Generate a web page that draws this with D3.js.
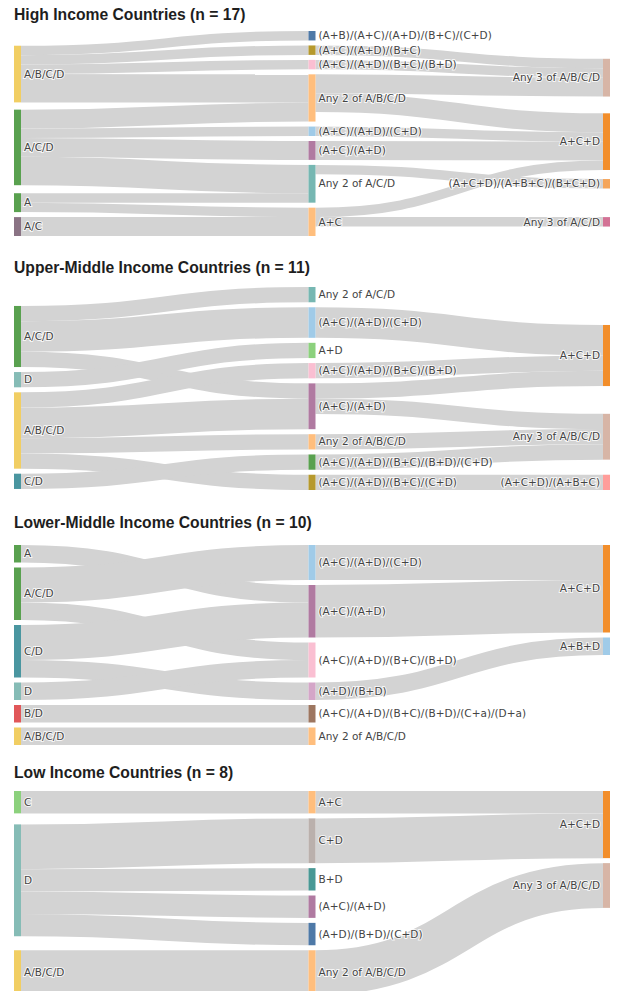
<!DOCTYPE html>
<html>
<head>
<meta charset="utf-8">
<script src="https://cdn.jsdelivr.net/npm/d3@7"></script>
<style>
  body { margin: 0; background: #fff; }
  .title { font-family: "Liberation Sans", Arial, sans-serif; font-weight: bold; font-size: 15.7px; fill: #1e1e1e; }
  .label { font-family: "DejaVu Sans", sans-serif; font-size: 10.5px; fill: #444; stroke: #fff; stroke-width: 2px; stroke-opacity: .8; paint-order: stroke; }
</style>
</head>
<body>
<svg id="chart"></svg>
<script>

// ---- data ----

const highTitle = 'High Income Countries (n = 17)'
const highLeft = ['A/B/C/D', 'A/C/D', 'A', 'A/C']
const highMid = ['(A+B)/(A+C)/(A+D)/(B+C)/(C+D)', '(A+C)/(A+D)/(B+C)', '(A+C)/(A+D)/(B+C)/(B+D)', 'Any 2 of A/B/C/D',
  '(A+C)/(A+D)/(C+D)', '(A+C)/(A+D)', 'Any 2 of A/C/D', 'A+C']
const highRight = ['Any 3 of A/B/C/D', 'A+C+D', '(A+C+D)/(A+B+C)/(B+C+D)', 'Any 3 of A/C/D']
const highLinks = [
  ['A/B/C/D', '(A+B)/(A+C)/(A+D)/(B+C)/(C+D)', 1],
  ['A/B/C/D', '(A+C)/(A+D)/(B+C)', 1],
  ['A/B/C/D', '(A+C)/(A+D)/(B+C)/(B+D)', 1],
  ['A/B/C/D', 'Any 2 of A/B/C/D', 3],
  ['A/C/D', 'Any 2 of A/B/C/D', 2],
  ['A/C/D', '(A+C)/(A+D)/(C+D)', 1],
  ['A/C/D', '(A+C)/(A+D)', 2],
  ['A/C/D', 'Any 2 of A/C/D', 3],
  ['A', 'Any 2 of A/C/D', 1],
  ['A', 'A+C', 1],
  ['A/C', 'A+C', 2],
  ['(A+C)/(A+D)/(B+C)', 'Any 3 of A/B/C/D', 1],
  ['(A+C)/(A+D)/(B+C)/(B+D)', 'Any 3 of A/B/C/D', 1],
  ['Any 2 of A/B/C/D', 'Any 3 of A/B/C/D', 2],
  ['Any 2 of A/B/C/D', 'A+C+D', 2],
  ['(A+C)/(A+D)/(C+D)', 'A+C+D', 1],
  ['(A+C)/(A+D)', 'A+C+D', 2],
  ['A+C', 'A+C+D', 1],
  ['Any 2 of A/C/D', '(A+C+D)/(A+B+C)/(B+C+D)', 1],
  ['A+C', 'Any 3 of A/C/D', 1]
]

const upperTitle = 'Upper-Middle Income Countries (n = 11)'
const upperLeft = ['A/C/D', 'D', 'A/B/C/D', 'C/D']
const upperMid = ['Any 2 of A/C/D', '(A+C)/(A+D)/(C+D)', 'A+D', '(A+C)/(A+D)/(B+C)/(B+D)', '(A+C)/(A+D)',
  'Any 2 of A/B/C/D', '(A+C)/(A+D)/(B+C)/(B+D)/(C+D)', '(A+C)/(A+D)/(B+C)/(C+D)']
const upperRight = ['A+C+D', 'Any 3 of A/B/C/D', '(A+C+D)/(A+B+C)']
const upperLinks = [
  ['A/C/D', 'Any 2 of A/C/D', 1],
  ['A/C/D', '(A+C)/(A+D)/(C+D)', 2],
  ['A/C/D', '(A+C)/(A+D)', 1],
  ['D', 'A+D', 1],
  ['A/B/C/D', '(A+C)/(A+D)/(B+C)/(B+D)', 1],
  ['A/B/C/D', '(A+C)/(A+D)', 2],
  ['A/B/C/D', 'Any 2 of A/B/C/D', 1],
  ['A/B/C/D', '(A+C)/(A+D)/(B+C)/(C+D)', 1],
  ['C/D', '(A+C)/(A+D)/(B+C)/(B+D)/(C+D)', 1],
  ['(A+C)/(A+D)/(C+D)', 'A+C+D', 2],
  ['(A+C)/(A+D)/(B+C)/(B+D)', 'A+C+D', 1],
  ['(A+C)/(A+D)', 'A+C+D', 1],
  ['(A+C)/(A+D)', 'Any 3 of A/B/C/D', 1],
  ['Any 2 of A/B/C/D', 'Any 3 of A/B/C/D', 1],
  ['(A+C)/(A+D)/(B+C)/(B+D)/(C+D)', 'Any 3 of A/B/C/D', 1],
  ['(A+C)/(A+D)/(B+C)/(C+D)', '(A+C+D)/(A+B+C)', 1]
]

const lowerTitle = 'Lower-Middle Income Countries (n = 10)'
const lowerLeft = ['A', 'A/C/D', 'C/D', 'D', 'B/D', 'A/B/C/D']
const lowerMid = ['(A+C)/(A+D)/(C+D)', '(A+C)/(A+D)', '(A+C)/(A+D)/(B+C)/(B+D)', '(A+D)/(B+D)',
  '(A+C)/(A+D)/(B+C)/(B+D)/(C+a)/(D+a)', 'Any 2 of A/B/C/D']
const lowerRight = ['A+C+D', 'A+B+D']
const lowerLinks = [
  ['A', '(A+C)/(A+D)', 1],
  ['A/C/D', '(A+C)/(A+D)/(C+D)', 2],
  ['A/C/D', '(A+C)/(A+D)/(B+C)/(B+D)', 1],
  ['C/D', '(A+C)/(A+D)', 2],
  ['C/D', '(A+D)/(B+D)', 1],
  ['D', '(A+C)/(A+D)/(B+C)/(B+D)', 1],
  ['B/D', '(A+C)/(A+D)/(B+C)/(B+D)/(C+a)/(D+a)', 1],
  ['A/B/C/D', 'Any 2 of A/B/C/D', 1],
  ['(A+C)/(A+D)/(C+D)', 'A+C+D', 2],
  ['(A+C)/(A+D)', 'A+C+D', 3],
  ['(A+D)/(B+D)', 'A+B+D', 1]
]

const lowTitle = 'Low Income Countries (n = 8)'
const lowLeft = ['C', 'D', 'A/B/C/D']
const lowMid = ['A+C', 'C+D', 'B+D', '(A+C)/(A+D)', '(A+D)/(B+D)/(C+D)', 'Any 2 of A/B/C/D']
const lowRight = ['A+C+D', 'Any 3 of A/B/C/D']
const lowLinks = [
  ['C', 'A+C', 1],
  ['D', 'C+D', 2],
  ['D', 'B+D', 1],
  ['D', '(A+C)/(A+D)', 1],
  ['D', '(A+D)/(B+D)/(C+D)', 1],
  ['A/B/C/D', 'Any 2 of A/B/C/D', 2],
  ['A+C', 'A+C+D', 1],
  ['C+D', 'A+C+D', 2],
  ['Any 2 of A/B/C/D', 'Any 3 of A/B/C/D', 2]
]

// ---- style ----

const palette = {
  'A/B/C/D': '#f1ce63', 'A/C/D': '#59a14f', 'A': '#59a14f', 'A/C': '#8a7384',
  'D': '#86bcb6', 'C/D': '#4a96a0', 'B/D': '#e15759', 'C': '#8cd17d',
  '(A+B)/(A+C)/(A+D)/(B+C)/(C+D)': '#4e79a7', '(A+C)/(A+D)/(B+C)': '#b6992d',
  '(A+C)/(A+D)/(B+C)/(B+D)': '#fabfd2', 'Any 2 of A/B/C/D': '#ffbe7d',
  '(A+C)/(A+D)/(C+D)': '#a0cbe8', '(A+C)/(A+D)': '#b07aa1', 'Any 2 of A/C/D': '#76b7b2',
  'A+C': '#ffbe7d', 'A+D': '#8cd17d', '(A+C)/(A+D)/(B+C)/(B+D)/(C+D)': '#59a14f',
  '(A+C)/(A+D)/(B+C)/(C+D)': '#b6992d', '(A+D)/(B+D)': '#d4a6c8',
  '(A+C)/(A+D)/(B+C)/(B+D)/(C+a)/(D+a)': '#9d7660', 'C+D': '#bab0ac', 'B+D': '#499894',
  '(A+D)/(B+D)/(C+D)': '#4e79a7', 'Any 3 of A/B/C/D': '#d7b5a6', 'A+C+D': '#f28e2b',
  '(A+C+D)/(A+B+C)/(B+C+D)': '#f5a55a', 'Any 3 of A/C/D': '#d37295',
  '(A+C+D)/(A+B+C)': '#ff9d9a', 'A+B+D': '#a0cbe8'
}

const panels = [
  { title: highTitle, cols: [highLeft, highMid, highRight], links: highLinks, stackRight: false },
  { title: upperTitle, cols: [upperLeft, upperMid, upperRight], links: upperLinks, stackRight: false },
  { title: lowerTitle, cols: [lowerLeft, lowerMid, lowerRight], links: lowerLinks, stackRight: true },
  { title: lowTitle, cols: [lowLeft, lowMid, lowRight], links: lowLinks, stackRight: true }
]

const width = 618, height = 991
const titleY = [20, 273, 528, 778]
const bandTop = [31, 287, 545, 791]
const bandBottom = [236, 490, 745, 995]
const marginL = 14, marginR = 8
const nodeW = 7, py = 5, iterations = 32

const svg = d3.select('#chart').attr('width', width).attr('height', height)

// sankey layout after the d3-sankey relaxation, keeping the given node order
const sankeyLayout = (panel, y0, y1) => {

  let byName = new Map()

  let columns = panel.cols.map((labels, c) => labels.map(label => {
    let n = { label: label, layer: c, sourceLinks: [], targetLinks: [] }
    byName.set(label, n)
    return n
  }))

  let links = panel.links.map(([s, t, v]) => {
    let l = { source: byName.get(s), target: byName.get(t), value: v }
    l.source.sourceLinks.push(l)
    l.target.targetLinks.push(l)
    return l
  })

  let xScale = d3.scaleLinear().domain([0, columns.length - 1]).range([marginL, width - marginR - nodeW])

  columns.flat().map(n => {
    n.value = Math.max(d3.sum(n.sourceLinks, l => l.value), d3.sum(n.targetLinks, l => l.value))
    n.x0 = xScale(n.layer)
    n.x1 = n.x0 + nodeW
  })

  let ky = d3.min(columns, c => (y1 - y0 - (c.length - 1) * py) / d3.sum(c, n => n.value))

  links.map(l => l.width = l.value * ky)

  const center = n => (n.y0 + n.y1) / 2

  columns.map(col => col.map((n, i) => { n.y0 = y0 + i; n.y1 = n.y0 + n.value * ky }))

  const resolve = col => {
    let y = y0
    col.map(n => {
      let dy = y - n.y0
      if (dy > 0) { n.y0 += dy; n.y1 += dy }
      y = n.y1 + py
    })
    let dy = y - py - y1
    if (dy > 0) {
      let last = col[col.length - 1]
      last.y0 -= dy
      last.y1 -= dy
      y = last.y0
      for (let i = col.length - 2; i >= 0; --i) {
        let n = col[i]
        dy = n.y1 + py - y
        if (dy > 0) { n.y0 -= dy; n.y1 -= dy }
        y = n.y0
      }
    }
  }

  columns.map(resolve)

  for (let alpha = 1, k = iterations; k > 0; --k) {
    alpha *= 0.99

    columns.slice().reverse().map(col => {
      col.map(n => {
        if (!n.sourceLinks.length) return
        let dy = (d3.sum(n.sourceLinks, l => center(l.target) * l.value) / d3.sum(n.sourceLinks, l => l.value) - center(n)) * alpha
        n.y0 += dy
        n.y1 += dy
      })
      resolve(col)
    })

    columns.map(col => {
      col.map(n => {
        if (!n.targetLinks.length) return
        let dy = (d3.sum(n.targetLinks, l => center(l.source) * l.value) / d3.sum(n.targetLinks, l => l.value) - center(n)) * alpha
        n.y0 += dy
        n.y1 += dy
      })
      resolve(col)
    })
  }

  if (panel.stackRight) {
    let y = y0
    columns[columns.length - 1].map(n => {
      let h = n.y1 - n.y0
      n.y0 = y
      n.y1 = y + h
      y = n.y1 + py
    })
  }

  columns.flat().map(n => {
    n.sourceLinks.sort((a, b) => a.target.y0 - b.target.y0)
    n.targetLinks.sort((a, b) => a.source.y0 - b.source.y0)
    let ys = n.y0, yt = n.y0
    n.sourceLinks.map(l => { l.y0 = ys + l.width / 2; ys += l.width })
    n.targetLinks.map(l => { l.y1 = yt + l.width / 2; yt += l.width })
  })

  return { nodes: columns.flat(), links: links, last: columns.length - 1 }
}

const linkPath = d3.linkHorizontal()
  .source(d => [d.source.x1, d.y0])
  .target(d => [d.target.x0, d.y1])

panels.map((panel, i) => {

  let g = svg.append('g')

  g.append('text')
    .attr('class', 'title')
    .attr('x', marginL)
    .attr('y', titleY[i])
    .text(panel.title)

  let graph = sankeyLayout(panel, bandTop[i], bandBottom[i])

  g.append('g')
    .selectAll('path')
    .data(graph.links)
    .join('path')
    .attr('d', linkPath)
    .attr('fill', 'none')
    .attr('stroke', '#d3d3d3')
    .attr('stroke-width', d => Math.max(1, d.width))

  g.append('g')
    .selectAll('rect')
    .data(graph.nodes)
    .join('rect')
    .attr('x', d => d.x0)
    .attr('y', d => d.y0)
    .attr('width', d => d.x1 - d.x0)
    .attr('height', d => d.y1 - d.y0)
    .attr('fill', d => palette[d.label])

  g.append('g')
    .selectAll('text')
    .data(graph.nodes)
    .join('text')
    .attr('class', 'label')
    .attr('x', d => d.layer === graph.last ? d.x0 - 3 : d.x1 + 3)
    .attr('y', d => (d.y0 + d.y1) / 2)
    .attr('dy', '0.35em')
    .attr('text-anchor', d => d.layer === graph.last ? 'end' : 'start')
    .text(d => d.label)
})

</script>
</body>
</html>
